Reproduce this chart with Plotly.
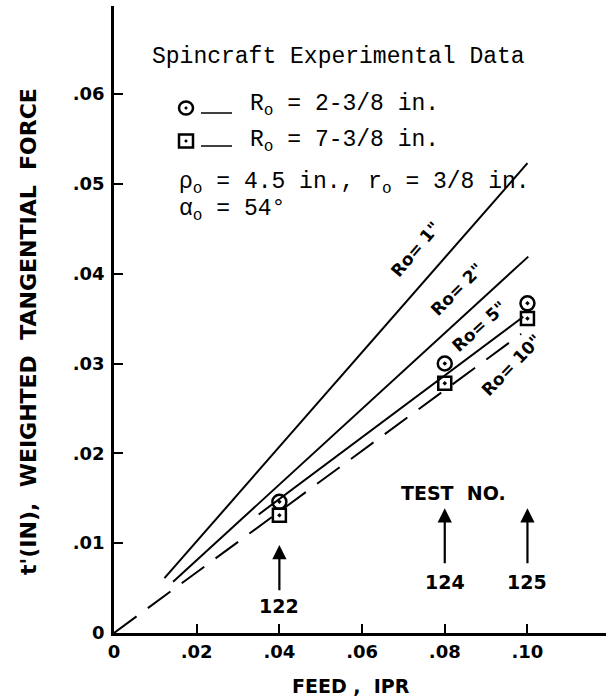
import plotly.graph_objects as go

# ---------------- data ----------------
feed_ipr = [0.04, 0.08, 0.10]
test_numbers = ["122", "124", "125"]
force_r238 = [0.0146, 0.0300, 0.0367]   # circles, Ro = 2-3/8 in.
force_r738 = [0.0131, 0.0278, 0.0350]   # squares, Ro = 7-3/8 in.

ro1_x = [0.0122, 0.1000]
ro1_y = [0.0061, 0.0523]
ro2_x = [0.0143, 0.1002]
ro2_y = [0.0057, 0.0419]
ro5_x = [0.0350, 0.0990]
ro5_y = [0.0132, 0.0352]
ro10_x = [0.0000, 0.0985]
ro10_y = [0.0000, 0.0333]

x_tickvals = [0, 0.02, 0.04, 0.06, 0.08, 0.10]
x_ticktext = ["0", ".02", ".04", ".06", ".08", ".10"]
y_tickvals = [0, 0.01, 0.02, 0.03, 0.04, 0.05, 0.06]
y_ticktext = ["0", ".01", ".02", ".03", ".04", ".05", ".06"]

# ---------------- layout geometry ----------------
W, H = 608, 699
ML, MR, MT, MB = 114, 2, 6, 66
PW, PH = W - ML - MR, H - MT - MB


def px(X):
    return (X - ML) / PW


def py(Y):
    return (H - MB - Y) / PH


SANS = "DejaVu Sans"
MONO = "Liberation Mono"
BLACK = "black"

fig = go.Figure()

line_style = dict(color=BLACK, width=2)
fig.add_trace(go.Scatter(x=ro1_x, y=ro1_y, mode="lines", line=line_style, hoverinfo="skip"))
fig.add_trace(go.Scatter(x=ro2_x, y=ro2_y, mode="lines", line=line_style, hoverinfo="skip"))
fig.add_trace(go.Scatter(x=ro5_x, y=ro5_y, mode="lines", line=line_style, hoverinfo="skip"))
fig.add_trace(go.Scatter(x=ro10_x, y=ro10_y, mode="lines",
                         line=dict(color=BLACK, width=2, dash="28px,14px"), hoverinfo="skip"))

fig.add_trace(go.Scatter(x=feed_ipr, y=force_r738, mode="markers",
                         marker=dict(symbol="square-open-dot", size=13, color=BLACK,
                                     line=dict(color=BLACK, width=2.5)),
                         name="Ro = 7-3/8 in."))
fig.add_trace(go.Scatter(x=feed_ipr, y=force_r238, mode="markers",
                         marker=dict(symbol="circle-open-dot", size=14, color=BLACK,
                                     line=dict(color=BLACK, width=2.5)),
                         name="Ro = 2-3/8 in."))

annotations = []

# line labels
line_labels = [
    ('Ro= 1"', 0.0730, 0.0427, -50),
    ('Ro= 2"', 0.0830, 0.0383, -45),
    ('Ro= 5"', 0.0884, 0.0342, -42),
    ('Ro= 10"', 0.0962, 0.0298, -46),
]
for txt, lx, ly, ang in line_labels:
    annotations.append(dict(x=lx, y=ly, xref="x", yref="y", text="<b>" + txt + "</b>",
                            showarrow=False, textangle=ang, xanchor="center", yanchor="middle",
                            font=dict(family=SANS, size=17, color=BLACK)))

# test-number arrows
arrow_heads = [0.0098, 0.0139, 0.0139]
arrow_tails = [0.0046, 0.0076, 0.0076]
label_y = [0.0030, 0.0057, 0.0057]
for fx, tn, hy, ty, ly in zip(feed_ipr, test_numbers, arrow_heads, arrow_tails, label_y):
    annotations.append(dict(x=fx, y=hy, ax=fx, ay=ty, xref="x", yref="y", axref="x", ayref="y",
                            text="", showarrow=True, arrowhead=2, arrowsize=1.3,
                            arrowwidth=2.2, arrowcolor=BLACK))
    annotations.append(dict(x=fx, y=ly, xref="x", yref="y", text="<b>" + tn + "</b>",
                            showarrow=False, xanchor="center", yanchor="middle",
                            font=dict(family=SANS, size=19, color=BLACK)))

annotations.append(dict(x=px(453), y=py(493), xref="paper", yref="paper",
                        text="<b>TEST\u00a0\u00a0NO.</b>", showarrow=False,
                        xanchor="center", yanchor="middle",
                        font=dict(family=SANS, size=19, color=BLACK)))

# typewriter notes
notes = [
    ("Spincraft Experimental Data", 150, 57),
    ("R<sub>o</sub> = 2-3/8 in.", 248, 106),
    ("R<sub>o</sub> = 7-3/8 in.", 248, 141),
    ("\u03c1<sub>o</sub> = 4.5 in., r<sub>o</sub> = 3/8 in.", 177, 183),
    ("\u03b1<sub>o</sub> = 54\u00b0", 177, 211),
]
for txt, X, Y in notes:
    annotations.append(dict(x=px(X), y=py(Y), xref="paper", yref="paper", text=txt,
                            showarrow=False, xanchor="left", yanchor="middle",
                            font=dict(family=MONO, size=23, color=BLACK)))

# axis titles
annotations.append(dict(x=px(28), y=py(332), xref="paper", yref="paper",
                        text="<b>t'(IN),\u00a0\u00a0WEIGHTED\u00a0\u00a0TANGENTIAL\u00a0\u00a0FORCE</b>",
                        showarrow=False, textangle=-90, xanchor="center", yanchor="middle",
                        font=dict(family=SANS, size=22, color=BLACK)))
annotations.append(dict(x=px(351), y=py(686), xref="paper", yref="paper",
                        text="<b>FEED\u00a0,\u00a0\u00a0IPR</b>", showarrow=False,
                        xanchor="center", yanchor="middle",
                        font=dict(family=SANS, size=19, color=BLACK)))

# legend keys (decoration)
shapes = []
for cy, kind in [(108, "circle"), (141, "rect")]:
    shapes.append(dict(type=kind, xref="paper", yref="paper", xsizemode="pixel", ysizemode="pixel",
                       xanchor=px(186), yanchor=py(cy), x0=-7, x1=7, y0=-6.5, y1=6.5,
                       line=dict(color=BLACK, width=2.5), fillcolor="rgba(0,0,0,0)"))
    shapes.append(dict(type="circle", xref="paper", yref="paper", xsizemode="pixel", ysizemode="pixel",
                       xanchor=px(186), yanchor=py(cy), x0=-1.3, x1=1.3, y0=-1.3, y1=1.3,
                       line=dict(color=BLACK, width=0.5), fillcolor=BLACK))
    shapes.append(dict(type="line", xref="paper", yref="paper",
                       x0=px(201), x1=px(232), y0=py(cy + 5), y1=py(cy + 5),
                       line=dict(color=BLACK, width=1.5)))

fig.update_layout(
    width=W, height=H,
    margin=dict(l=ML, r=MR, t=MT, b=MB),
    plot_bgcolor="white", paper_bgcolor="white",
    showlegend=False,
    annotations=annotations,
    shapes=shapes,
    xaxis=dict(range=[0, 0.119], showline=True, linewidth=2.5, linecolor=BLACK,
               ticks="inside", ticklen=9, tickwidth=2, tickcolor=BLACK,
               tickvals=x_tickvals, ticktext=x_ticktext, showgrid=False, zeroline=False,
               ticklabelstandoff=1,
               tickfont=dict(family=SANS, size=18, color=BLACK, weight="bold")),
    yaxis=dict(range=[0, 0.0698], showline=True, linewidth=2.5, linecolor=BLACK,
               ticks="inside", ticklen=9, tickwidth=2, tickcolor=BLACK,
               tickvals=y_tickvals, ticktext=y_ticktext, showgrid=False, zeroline=False,
               ticklabelstandoff=3,
               tickfont=dict(family=SANS, size=18, color=BLACK, weight="bold")),
)

fig.write_html("out.html")
